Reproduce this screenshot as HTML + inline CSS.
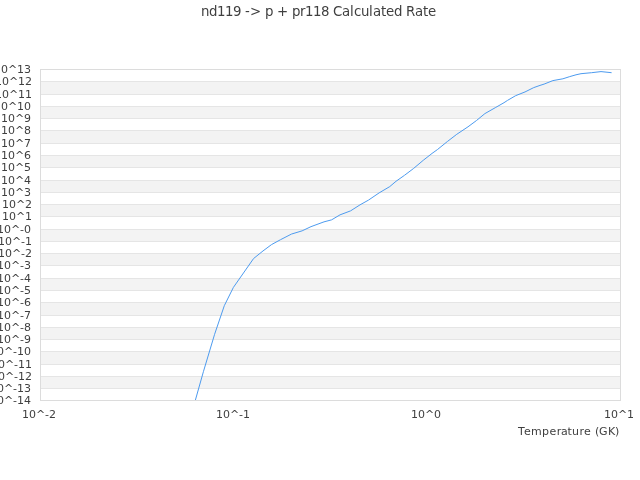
<!DOCTYPE html>
<html><head><meta charset="utf-8"><title>nd119 -&gt; p + pr118 Calculated Rate</title>
<style>html,body{margin:0;padding:0;background:#fff;overflow:hidden}svg{display:block;will-change:transform}text{font-kerning:none;font-family:"DejaVu Sans","Liberation Sans",sans-serif;fill:#3f3f3f}</style></head><body>
<svg width="640" height="480" viewBox="0 0 640 480">
<rect x="0" y="0" width="640" height="480" fill="#fff"/>
<rect x="40" y="81" width="580" height="13" fill="#f3f3f3"/>
<rect x="40" y="106" width="580" height="12" fill="#f3f3f3"/>
<rect x="40" y="130" width="580" height="13" fill="#f3f3f3"/>
<rect x="40" y="155" width="580" height="12" fill="#f3f3f3"/>
<rect x="40" y="180" width="580" height="12" fill="#f3f3f3"/>
<rect x="40" y="204" width="580" height="12" fill="#f3f3f3"/>
<rect x="40" y="229" width="580" height="12" fill="#f3f3f3"/>
<rect x="40" y="253" width="580" height="12" fill="#f3f3f3"/>
<rect x="40" y="278" width="580" height="12" fill="#f3f3f3"/>
<rect x="40" y="302" width="580" height="13" fill="#f3f3f3"/>
<rect x="40" y="327" width="580" height="12" fill="#f3f3f3"/>
<rect x="40" y="351" width="580" height="13" fill="#f3f3f3"/>
<rect x="40" y="376" width="580" height="12" fill="#f3f3f3"/>
<rect x="40" y="69" width="581" height="1" fill="#dcdcdc"/>
<rect x="40" y="81" width="581" height="1" fill="#e5e5e5"/>
<rect x="40" y="94" width="581" height="1" fill="#e5e5e5"/>
<rect x="40" y="106" width="581" height="1" fill="#e5e5e5"/>
<rect x="40" y="118" width="581" height="1" fill="#e5e5e5"/>
<rect x="40" y="130" width="581" height="1" fill="#e5e5e5"/>
<rect x="40" y="143" width="581" height="1" fill="#e5e5e5"/>
<rect x="40" y="155" width="581" height="1" fill="#e5e5e5"/>
<rect x="40" y="167" width="581" height="1" fill="#e5e5e5"/>
<rect x="40" y="180" width="581" height="1" fill="#e5e5e5"/>
<rect x="40" y="192" width="581" height="1" fill="#e5e5e5"/>
<rect x="40" y="204" width="581" height="1" fill="#e5e5e5"/>
<rect x="40" y="216" width="581" height="1" fill="#e5e5e5"/>
<rect x="40" y="229" width="581" height="1" fill="#e5e5e5"/>
<rect x="40" y="241" width="581" height="1" fill="#e5e5e5"/>
<rect x="40" y="253" width="581" height="1" fill="#e5e5e5"/>
<rect x="40" y="265" width="581" height="1" fill="#e5e5e5"/>
<rect x="40" y="278" width="581" height="1" fill="#e5e5e5"/>
<rect x="40" y="290" width="581" height="1" fill="#e5e5e5"/>
<rect x="40" y="302" width="581" height="1" fill="#e5e5e5"/>
<rect x="40" y="315" width="581" height="1" fill="#e5e5e5"/>
<rect x="40" y="327" width="581" height="1" fill="#e5e5e5"/>
<rect x="40" y="339" width="581" height="1" fill="#e5e5e5"/>
<rect x="40" y="351" width="581" height="1" fill="#e5e5e5"/>
<rect x="40" y="364" width="581" height="1" fill="#e5e5e5"/>
<rect x="40" y="376" width="581" height="1" fill="#e5e5e5"/>
<rect x="40" y="388" width="581" height="1" fill="#e5e5e5"/>
<rect x="40" y="400" width="581" height="1" fill="#dcdcdc"/>
<rect x="40" y="69" width="1" height="332" fill="#dcdcdc"/>
<rect x="620" y="69" width="1" height="332" fill="#dcdcdc"/>
<text x="-6 1 8 17 24" y="73" font-size="11">10^13</text>
<text x="-5 2 9 18 25" y="85" font-size="11">10^12</text>
<text x="-5 2 9 18 25" y="98" font-size="11">10^11</text>
<text x="-6 1 8 17 24" y="110" font-size="11">10^10</text>
<text x="1 8 15 24" y="122" font-size="11">10^9</text>
<text x="1 8 15 24" y="134" font-size="11">10^8</text>
<text x="1 8 15 24" y="147" font-size="11">10^7</text>
<text x="1 8 15 24" y="159" font-size="11">10^6</text>
<text x="1 8 15 24" y="171" font-size="11">10^5</text>
<text x="1 8 15 24" y="184" font-size="11">10^4</text>
<text x="1 8 15 24" y="196" font-size="11">10^3</text>
<text x="2 9 16 25" y="208" font-size="11">10^2</text>
<text x="2 9 16 25" y="220" font-size="11">10^1</text>
<text x="-3 4 11 20 24" y="233" font-size="11">10^-0</text>
<text x="-2 5 12 21 25" y="245" font-size="11">10^-1</text>
<text x="-2 5 12 21 25" y="257" font-size="11">10^-2</text>
<text x="-3 4 11 20 24" y="269" font-size="11">10^-3</text>
<text x="-3 4 11 20 24" y="282" font-size="11">10^-4</text>
<text x="-3 4 11 20 24" y="294" font-size="11">10^-5</text>
<text x="-3 4 11 20 24" y="306" font-size="11">10^-6</text>
<text x="-3 4 11 20 24" y="319" font-size="11">10^-7</text>
<text x="-3 4 11 20 24" y="331" font-size="11">10^-8</text>
<text x="-3 4 11 20 24" y="343" font-size="11">10^-9</text>
<text x="-10 -3 4 13 17 24" y="355" font-size="11">10^-10</text>
<text x="-9 -2 5 14 18 25" y="368" font-size="11">10^-11</text>
<text x="-9 -2 5 14 18 25" y="380" font-size="11">10^-12</text>
<text x="-10 -3 4 13 17 24" y="392" font-size="11">10^-13</text>
<text x="-10 -3 4 13 17 24" y="404" font-size="11">10^-14</text>
<text x="22 29 36 45 49" y="418" font-size="11">10^-2</text>
<text x="216 223 230 239 243" y="418" font-size="11">10^-1</text>
<text x="411 418 425 434" y="418" font-size="11">10^0</text>
<text x="604 611 618 627" y="418" font-size="11">10^1</text>
<text x="518 524 531 542 549.6 556.7 561 567.6 572 579.5 584 591 595 599 608 615" y="435" font-size="11">Temperature (GK)</text>
<text x="201 209 217 225 233 241 245 250 261 265 273 277 288 292 300 305 313 321 329 333 342 350 354 361 369 373 381 386 394 402 406 415 423 428" y="16" font-size="13.33">nd119 -&gt; p + pr118 Calculated Rate</text>
<polyline fill="none" stroke="#4d9bef" stroke-width="1" stroke-linejoin="round" points="195.30,400.40 203.40,371.70 214.60,334.30 224.30,305.70 233.40,287.40 253.60,258.50 263.00,250.95 271.50,244.60 280.50,239.70 291.50,234.05 302.10,230.85 311.00,226.65 324.00,221.85 331.60,219.85 340.00,214.85 350.60,210.85 360.00,204.85 368.50,200.10 379.10,192.90 389.75,186.60 396.00,181.30 404.50,175.30 413.60,168.45 423.25,160.30 432.00,153.45 437.40,149.60 447.40,141.50 456.75,134.30 468.00,126.80 476.50,120.50 484.90,113.60 495.25,107.70 504.00,102.70 507.50,100.40 515.60,95.70 525.00,91.95 533.75,87.60 540.00,85.40 544.10,84.10 552.90,80.60 562.90,78.80 569.75,76.60 576.00,74.80 581.00,73.70 591.60,72.70 601.00,71.60 611.60,72.70"/>
<rect x="40" y="400" width="581" height="1" fill="#dcdcdc"/>
</svg></body></html>
